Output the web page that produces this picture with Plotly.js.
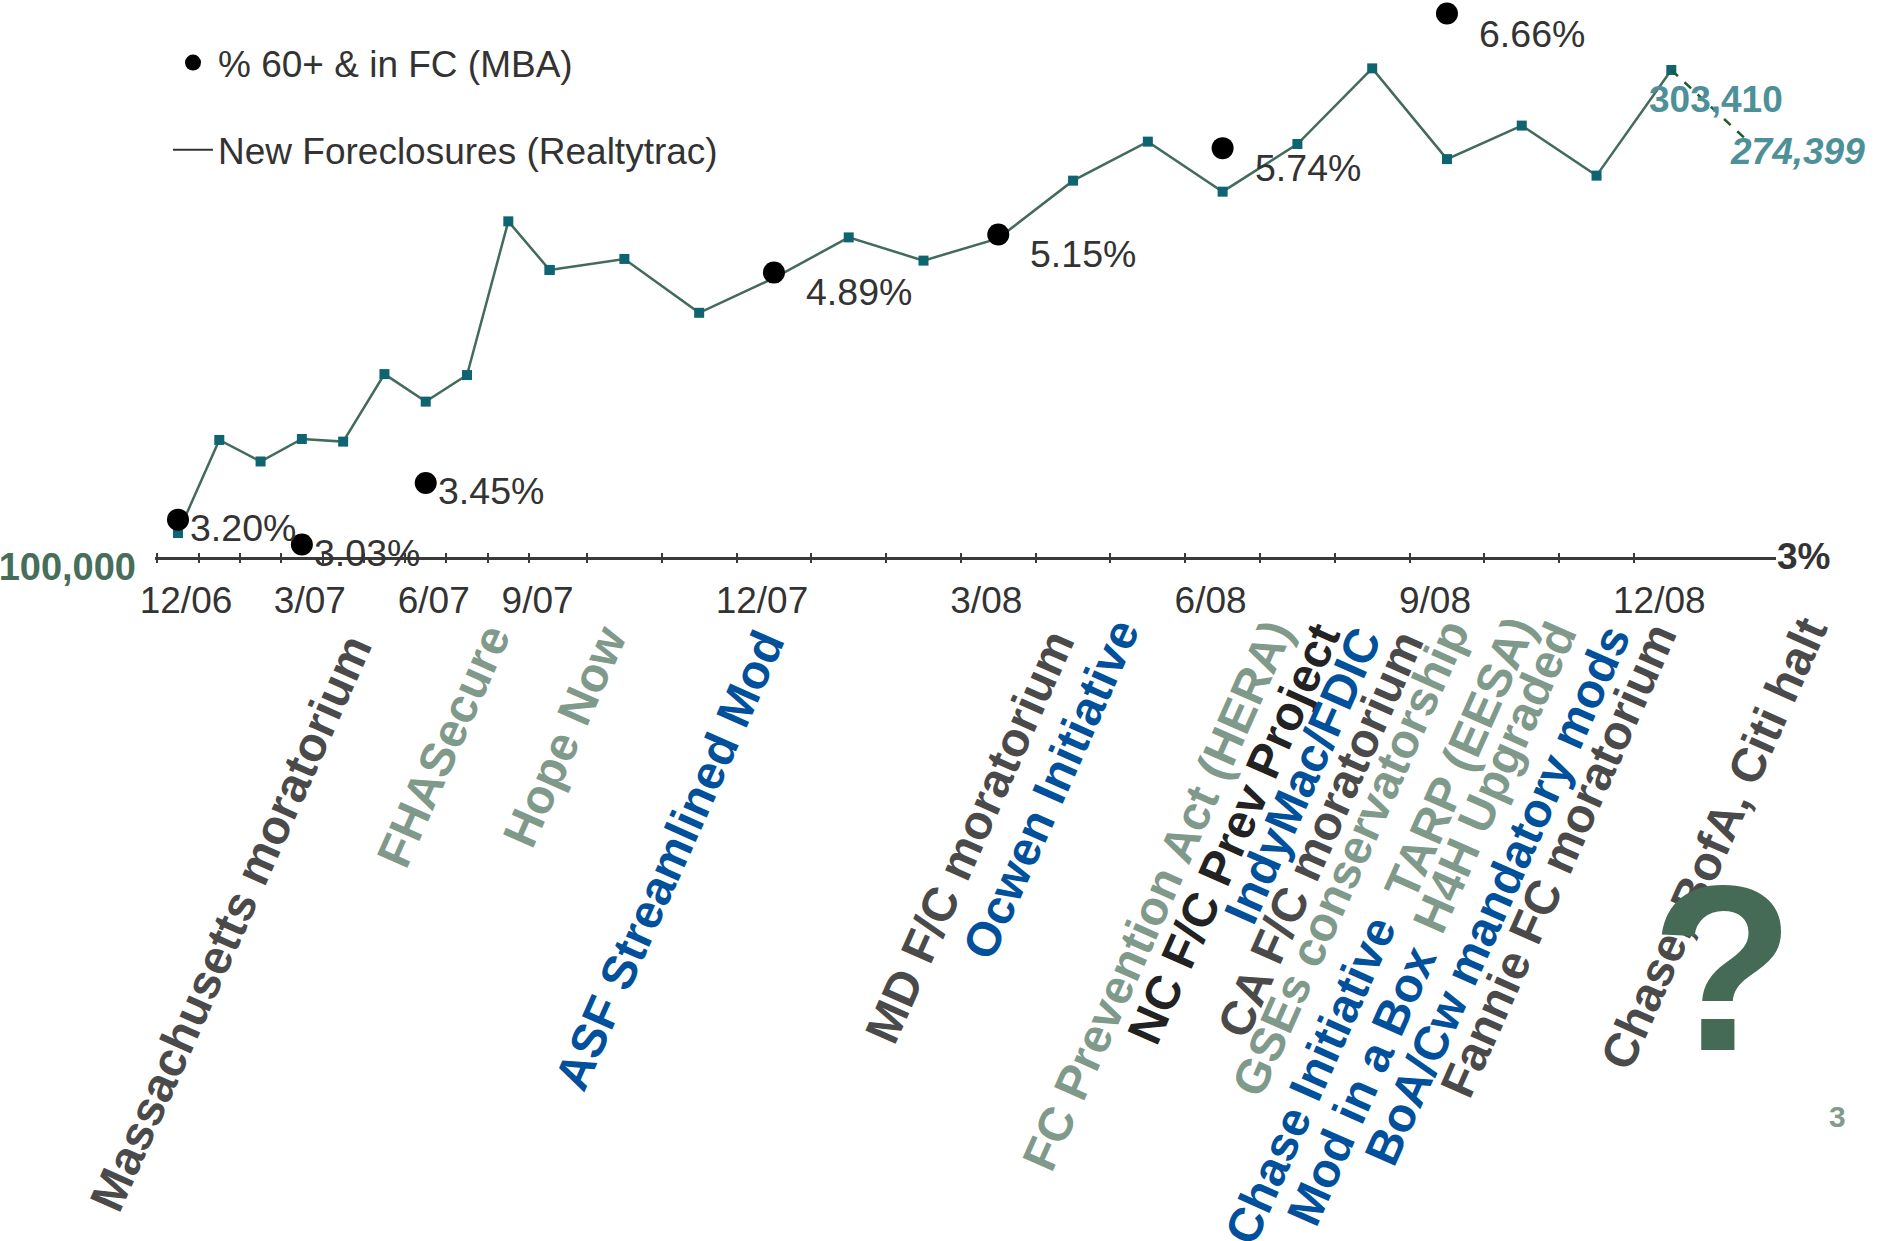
<!DOCTYPE html>
<html><head><meta charset="utf-8">
<script src="https://cdn.plot.ly/plotly-3.0.1.min.js"></script>
<style>html,body{margin:0;padding:0;background:#fff}#chart{width:1878px;height:1241px}</style>
</head><body><div id="chart"></div>
<script>
// ---------------- data ----------------
const months = ['12/06','1/07','2/07','3/07','4/07','5/07','6/07','7/07','8/07','9/07','10/07','11/07','12/07',
                '1/08','2/08','3/08','4/08','5/08','6/08','7/08','8/08','9/08','10/08','11/08','12/08'];
const newForeclosures = [110000,148900,139900,149300,148200,176400,164900,176000,240200,219900,224500,202000,216500,
                         233500,223800,233100,257200,273500,252600,272500,304100,266200,280200,259300,303410];
const projMonths = ['12/08','1/09'];
const projValues = [303410, 274399];
const mbaMonths = ['12/06','3/07','6/07','12/07','3/08','6/08','9/08'];
const mbaValues = [3.20, 3.03, 3.45, 4.89, 5.15, 5.74, 6.66];
const tickMonths = ['12/06','3/07','6/07','9/07','12/07','3/08','6/08','9/08','12/08'];
const seriesNames = ['% 60+ & in FC (MBA)', 'New Foreclosures (Realtytrac)'];
const leftAxisLabel = '100,000';
const rightAxisLabel = '3%';
const events = ['Massachusetts moratorium','FHASecure','Hope Now','ASF Streamlined Mod','MD F/C moratorium',
  'Ocwen Initiative','FC Prevention Act (HERA)','NC F/C Prev Project','IndyMac/FDIC','CA F/C moratorium',
  'GSEs conservatorship','TARP (EESA)','Chase Initiative','H4H Upgraded','Mod in a Box',
  'BoA/Cw mandatory mods','Fannie FC moratorium','Chase, BofA, Citi halt'];
const questionMark = '?';
const pageNumber = '3';

// ---------------- layout / style ----------------
const FONT = 'Liberation Sans, Arial, Helvetica, sans-serif';
const L = 155, R = 1776, T = 0, B = 557;          // plot area in px
const splitPx = 549.6;                             // where the time scale changes
const dSplit = (splitPx - L) / (R - L);
const px2x = px => (px - L) / (R - L);
const py2y = py => (B - py) / (B - T);
const palette = {dark:'#4a4a4a', sage:'#7f9a8b', blue:'#00509b', black:'#222222'};
// centre of each rotated label (px) and its colour
const eventStyle = [
  [230.6,923.5,'dark'],[443,746,'sage'],[565,737,'sage'],[669,860,'blue'],[969,837,'dark'],
  [1050.5,789,'blue'],[1157.5,895.5,'sage'],[1233,834,'black'],[1302,776,'blue'],[1320,834,'dark'],
  [1350,858,'sage'],[1459.5,758,'sage'],[1310,1080,'blue'],[1495,778,'sage'],[1361,1086,'blue'],
  [1497,895,'blue'],[1558,860,'dark'],[1714,843.5,'dark']
];
const EVENT_ANGLE = -66;

const splitIdx = months.indexOf('9/07');
const seg1 = months.slice(0, splitIdx + 1);
const seg2Months = months.slice(splitIdx);
const seg2 = seg2Months.concat(projMonths.slice(1));
const seg1Vals = newForeclosures.slice(0, splitIdx + 1);
const seg2Vals = newForeclosures.slice(splitIdx);

const lineStyle = {color:'#426b5b', width:2.5};
const markerStyle = {symbol:'square', size:10, color:'#0f6472'};

const traces = [];
// MBA dots
const inSeg1 = m => seg1.indexOf(m) >= 0 && m !== '9/07';
const d1 = mbaMonths.map((m,i)=>i).filter(i => inSeg1(mbaMonths[i]));
const d2 = mbaMonths.map((m,i)=>i).filter(i => !inSeg1(mbaMonths[i]));
traces.push({type:'scatter', mode:'markers', name:seriesNames[0], legendgroup:'mba', legendrank:1,
  x:d1.map(i=>mbaMonths[i]), y:d1.map(i=>mbaValues[i]), xaxis:'x', yaxis:'y2',
  marker:{color:'#000', size:22}, cliponaxis:false, hoverinfo:'skip'});
traces.push({type:'scatter', mode:'markers', name:seriesNames[0], legendgroup:'mba', showlegend:false,
  x:d2.map(i=>mbaMonths[i]), y:d2.map(i=>mbaValues[i]), xaxis:'x2', yaxis:'y2',
  marker:{color:'#000', size:22}, cliponaxis:false, hoverinfo:'skip'});
// Realtytrac line
traces.push({type:'scatter', mode:'lines+markers', name:seriesNames[1], showlegend:false,
  x:seg1, y:seg1Vals, xaxis:'x', yaxis:'y', line:lineStyle, marker:markerStyle, cliponaxis:false, hoverinfo:'skip'});
traces.push({type:'scatter', mode:'lines+markers', name:seriesNames[1], showlegend:false,
  x:seg2Months, y:seg2Vals, xaxis:'x2', yaxis:'y', line:lineStyle, marker:markerStyle, cliponaxis:false, hoverinfo:'skip'});
traces.push({type:'scatter', mode:'lines', name:seriesNames[1]+' (latest)', showlegend:false,
  x:projMonths, y:projValues, xaxis:'x2', yaxis:'y', line:{color:'#1d5e2c', width:2.5, dash:'dash'},
  cliponaxis:false, hoverinfo:'skip'});
// legend entry for the line series
traces.push({type:'scatter', mode:'lines', name:seriesNames[1], legendgroup:'rt', legendrank:2,
  x:[seg1[0]], y:[null], xaxis:'x', yaxis:'y', line:{color:'#333', width:2}});
// empty traces that register the tick-mark overlay axes
['x3','x4','x5','x6'].forEach(a => traces.push({type:'scatter', mode:'markers', x:[0], y:[null],
  xaxis:a, yaxis:'y', showlegend:false, hoverinfo:'skip'}));

const annotations = [];
// MBA value labels
const labelOffset = {x:{xshift:10, yshift:-8}, x2:{xshift:30, yshift:-20}};
mbaMonths.forEach((m,i)=>{
  const ax = inSeg1(m) ? 'x' : 'x2';
  const idx = ax === 'x' ? seg1.indexOf(m) : seg2.indexOf(m);
  annotations.push({xref:ax, yref:'y2', x:idx, y:mbaValues[i], text:mbaValues[i].toFixed(2)+'%',
    showarrow:false, xanchor:'left', yanchor:'middle', xshift:labelOffset[ax].xshift, yshift:labelOffset[ax].yshift,
    font:{family:FONT, size:37.5, color:'#333'}});
});
// latest values
annotations.push({xref:'x2', yref:'y', x:seg2.indexOf(projMonths[0]), y:projValues[0],
  text:projValues[0].toLocaleString('en-US'), showarrow:false, xanchor:'left', yanchor:'middle', xshift:-24, yshift:-29,
  font:{family:FONT, size:37, color:'#4e9098', weight:'bold'}});
annotations.push({xref:'x2', yref:'y', x:seg2.indexOf(projMonths[1]), y:projValues[1],
  text:'<i>'+projValues[1].toLocaleString('en-US')+'</i>', showarrow:false, xanchor:'left', yanchor:'middle', xshift:-18, yshift:-12,
  font:{family:FONT, size:37, color:'#4e9098', weight:'bold'}});
// event labels
events.forEach((t,i)=>{
  const s = eventStyle[i];
  annotations.push({xref:'paper', yref:'paper', x:px2x(s[0]), y:py2y(s[1]), text:t, showarrow:false,
    xanchor:'center', yanchor:'middle', textangle:EVENT_ANGLE,
    font:{family:FONT, size:48, weight:'bold', color:palette[s[2]]}});
});
annotations.push({xref:'paper', yref:'paper', x:px2x(1723), y:py2y(968), text:questionMark, showarrow:false,
  xanchor:'center', yanchor:'middle', font:{family:FONT, size:235, weight:'bold', color:'#456b57'}});
annotations.push({xref:'paper', yref:'paper', x:px2x(1838), y:py2y(1116), text:pageNumber, showarrow:false,
  xanchor:'center', yanchor:'middle', font:{family:FONT, size:30, weight:'bold', color:'#809c8d'}});

const seg1Range = [-0.557, seg1.length - 1];
const seg2Range = [0, 16.4];
const tickFont = {family:FONT, size:37, color:'#333'};
const baseX = {type:'category', showgrid:false, zeroline:false, showline:true, linecolor:'#3a3a3a', linewidth:3,
  ticks:'', tickfont:tickFont, ticklabelstandoff:9, fixedrange:true, anchor:'y'};
const overlayX = (over, range, vals, side) => ({overlaying:over, anchor:'y', type:'linear', range:range,
  tickmode:'array', tickvals:vals, ticks:side, ticklen:side==='outside'?5:4, tickwidth:2, tickcolor:'#3a3a3a',
  showticklabels:false, showgrid:false, zeroline:false, showline:false, fixedrange:true});
const b1 = seg1.map((m,i)=>i-0.5);
const b2 = seg2Months.slice(1).map((m,i)=>i+0.5);

const layout = {
  width:1878, height:1241, margin:{l:L, r:1878-R, t:T, b:1241-B, pad:0},
  paper_bgcolor:'#fff', plot_bgcolor:'rgba(0,0,0,0)', showlegend:true, hovermode:false,
  font:{family:FONT, color:'#333'},
  legend:{x:px2x(168), y:py2y(32), xanchor:'left', yanchor:'top', bgcolor:'rgba(0,0,0,0)', borderwidth:0,
    font:{family:FONT, size:37, color:'#333'}, tracegroupgap:36, traceorder:'grouped', itemwidth:40, itemsizing:'trace'},
  xaxis:Object.assign({}, baseX, {domain:[0, dSplit], range:seg1Range, categoryorder:'array', categoryarray:seg1,
    tickmode:'array', tickvals:seg1.filter(m=>tickMonths.includes(m) && !seg2Months.includes(m)), ticklabelshift:8}),
  xaxis2:Object.assign({}, baseX, {domain:[dSplit, 1], range:seg2Range, categoryorder:'array', categoryarray:seg2,
    tickmode:'array', tickvals:seg2Months.filter(m=>tickMonths.includes(m)), ticklabelshift:-12}),
  xaxis3:overlayX('x', seg1Range, b1, 'outside'),
  xaxis4:overlayX('x', seg1Range, b1, 'inside'),
  xaxis5:overlayX('x2', seg2Range, b2, 'outside'),
  xaxis6:overlayX('x2', seg2Range, b2, 'inside'),
  yaxis:{anchor:'x', side:'left', range:[100000, 100000 + (B - T) * 417.7], showgrid:false, zeroline:false, showline:false,
    tickmode:'array', tickvals:[100000], ticktext:[leftAxisLabel], ticks:'', ticklabelstandoff:18, ticklabelshift:10,
    tickfont:{family:FONT, size:38, color:'#466e5a', weight:'bold'}, fixedrange:true},
  yaxis2:{overlaying:'y', anchor:'x2', side:'right', range:[2.9446, 6.7529], showgrid:false, zeroline:false, showline:false,
    tickmode:'array', tickvals:[3], ticktext:[rightAxisLabel], ticks:'', ticklabelshift:7,
    tickfont:{family:FONT, size:37, color:'#333', weight:'bold'}, fixedrange:true},
  annotations:annotations
};

Plotly.newPlot('chart', traces, layout, {displayModeBar:false, staticPlot:true});
</script></body></html>
